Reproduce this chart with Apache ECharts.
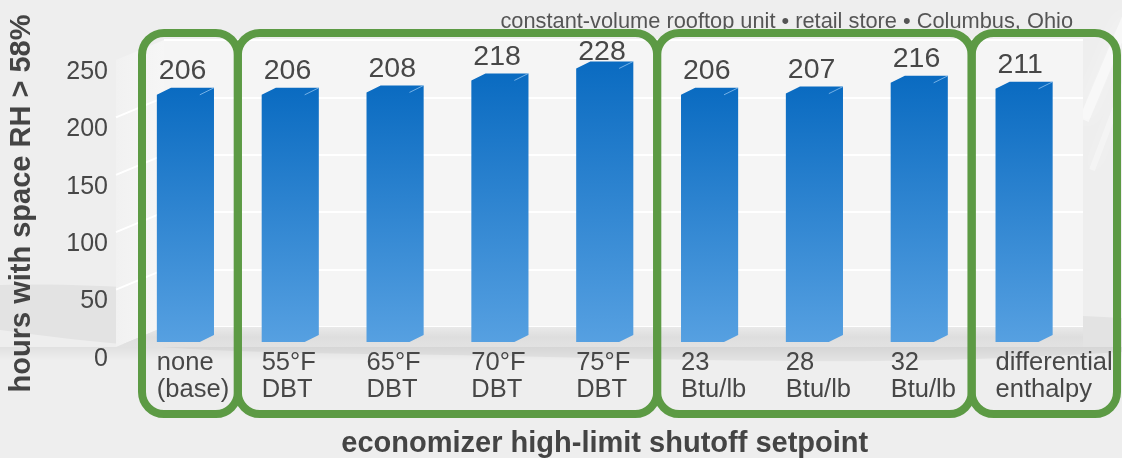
<!DOCTYPE html>
<html>
<head>
<meta charset="utf-8">
<script src="https://cdn.jsdelivr.net/npm/echarts@6/dist/echarts.min.js"></script>
<style>
  html, body { margin: 0; padding: 0; background: #eeeeee; }
  #chart { width: 1122px; height: 458px; }
</style>
</head>
<body>
<div id="chart"></div>
<script>
// Economizer high-limit setpoints compared (one bar per control strategy)
const categories = ['none\n(base)', '55°F\nDBT', '65°F\nDBT', '70°F\nDBT', '75°F\nDBT',
                    '23\nBtu/lb', '28\nBtu/lb', '32\nBtu/lb', 'differential\nenthalpy'];
const hours = [206, 206, 208, 218, 228, 206, 207, 216, 211];
// Setpoint families outlined together: [first index, last index]
const groups = [[0, 0], [1, 4], [5, 7], [8, 8]];
const yMin = 0, yMax = 250, yStep = 50;

const subtitle = 'constant-volume rooftop unit \u2022 retail store \u2022 Columbus, Ohio';
const yTitle = 'hours with space RH > 58%';
const xTitle = 'economizer high-limit shutoff setpoint';

const FONT = '"Liberation Sans", Arial, Helvetica, sans-serif';
const TEXT = '#474747';
const GREEN = '#5c9a44';

// Layout of the pseudo-3D box: front edge of the side wall, back wall, outlines
const wallFrontX = 116, wallBackX = 164;
const boxTop = 33, boxBottom = 414, boxStroke = 8;

const chart = echarts.init(document.getElementById('chart'), null, { renderer: 'canvas' });

function renderBar(params, api) {
  const v = api.value(1);
  const top = api.coord([api.value(0), v]);
  const base = api.coord([api.value(0), 0]);
  const band = api.size([1, 0])[0];
  const fw = band * 0.41;     // front face width
  const dx = band * 0.135;    // depth offset
  const dy = band * 0.067;
  const fl = top[0] - (fw + dx) / 2;
  const fr = fl + fw;
  const yt = top[1], yb = base[1];
  // value label sits just above the bar, kept inside the group outline
  const labelY = Math.max(yt - 2, boxTop + boxStroke / 2 + 30);
  return {
    type: 'group',
    children: [
      {
        type: 'polygon',
        shape: { points: [[fl, yt + dy], [fl + dx, yt], [fr + dx, yt], [fr + dx, yb], [fr, yb + dy], [fl, yb + dy]] },
        style: {
          fill: new echarts.graphic.LinearGradient(0, 0, 0, 1, [
            { offset: 0, color: '#0a6bc1' },
            { offset: 1, color: '#56a0e1' }
          ])
        }
      },
      {
        type: 'line',
        shape: { x1: fr, y1: yt + dy, x2: fr + dx, y2: yt },
        style: { stroke: 'rgba(160,205,245,0.7)', lineWidth: 1 }
      },
      {
        type: 'text',
        style: {
          x: fl + 2, y: labelY, text: String(v),
          font: '28.5px ' + FONT, fill: TEXT, align: 'left', verticalAlign: 'bottom'
        }
      },
      {
        type: 'text',
        style: {
          x: fl, y: yb + dy + 7, text: categories[params.dataIndex],
          font: '25.5px ' + FONT, fill: TEXT, align: 'left', verticalAlign: 'top', lineHeight: 27
        }
      }
    ]
  };
}

const option = {
  animation: false,
  backgroundColor: '#eeeeee',
  textStyle: { fontFamily: FONT },
  title: {
    text: subtitle,
    right: 44, top: 6,
    textStyle: { fontSize: 21.8, fontWeight: 'normal', color: '#555555', fontFamily: FONT }
  },
  grid: [
    { left: 133, right: 45.5, top: 35, bottom: 123, outerBoundsMode: 'none' },          // bars
    { left: wallBackX, right: 39, top: 40, bottom: 131, show: true, outerBoundsMode: 'none',
      backgroundColor: '#f5f5f5', borderWidth: 0 },                                       // back wall
    { left: wallFrontX, width: 48, top: 60, bottom: 111, outerBoundsMode: 'none' }       // front edge / value labels
  ],
  xAxis: [
    { type: 'category', gridIndex: 0, data: categories,
      axisLine: { show: false }, axisTick: { show: false }, axisLabel: { show: false },
      name: xTitle, nameLocation: 'middle', nameGap: 94,
      nameTextStyle: { fontSize: 29, fontWeight: 'bold', color: '#444444', fontFamily: FONT } },
    { type: 'category', gridIndex: 1, data: categories, show: false },
    { type: 'category', gridIndex: 2, data: categories, show: false }
  ],
  yAxis: [
    { type: 'value', gridIndex: 0, min: yMin, max: yMax, show: false },
    { type: 'value', gridIndex: 1, min: yMin, max: yMax, interval: yStep,
      axisLine: { show: false }, axisTick: { show: false }, axisLabel: { show: false },
      splitLine: { show: true, lineStyle: { color: '#ffffff', width: 2 } } },
    { type: 'value', gridIndex: 2, min: yMin, max: yMax, interval: yStep,
      axisLine: { show: false }, axisTick: { show: false }, splitLine: { show: false },
      axisLabel: { fontSize: 25, color: TEXT, margin: 8, verticalAlign: 'top', lineHeight: 24, fontFamily: FONT },
      name: yTitle, nameLocation: 'middle', nameRotate: 90, nameGap: 80,
      nameTextStyle: { fontSize: 29, fontWeight: 'bold', color: '#444444', fontFamily: FONT } }
  ],
  series: [
    {
      type: 'custom', xAxisIndex: 0, yAxisIndex: 0,
      renderItem: renderBar,
      data: hours.map((h, i) => [i, h]),
      z: 5
    }
  ]
};

chart.setOption(option);

// Walls, floor and group outlines, placed through the axes' own scales
function decorate() {
  const yF = v => chart.convertToPixel({ yAxisIndex: 2 }, v);
  const yB = v => chart.convertToPixel({ yAxisIndex: 1 }, v);
  const xC = i => chart.convertToPixel({ xAxisIndex: 0 }, i);
  const band = xC(1) - xC(0);
  const boundary = k => xC(k) - band / 2;
  const backRight = 1122 - 39;

  const elements = [];

  // soft background swoosh and sheen
  elements.push({
    type: 'polygon', z: -20, silent: true,
    shape: { points: [[0, 285], [500, 318], [1122, 318], [1122, 352], [500, 356], [0, 330]], smooth: 0.4 },
    style: { fill: 'rgba(0,0,0,0.045)', shadowBlur: 30, shadowColor: 'rgba(0,0,0,0.06)' }
  });
  elements.push({
    type: 'line', z: -19, silent: true,
    shape: { x1: 1128, y1: 15, x2: 1084, y2: 120 },
    style: { stroke: 'rgba(255,255,255,0.5)', lineWidth: 10, shadowBlur: 20, shadowColor: '#ffffff' }
  });
  elements.push({
    type: 'line', z: -19, silent: true,
    shape: { x1: 1130, y1: 70, x2: 1092, y2: 170 },
    style: { stroke: 'rgba(255,255,255,0.35)', lineWidth: 6, shadowBlur: 16, shadowColor: '#ffffff' }
  });

  // left side wall
  elements.push({
    type: 'polygon', z: 0, silent: true,
    shape: { points: [[wallFrontX, yF(yMax)], [wallBackX, yB(yMax)], [wallBackX, yB(yMin)], [wallFrontX, yF(yMin)]] },
    style: { fill: new echarts.graphic.LinearGradient(0, 0, 1, 0, [
      { offset: 0, color: '#f1f1f1' }, { offset: 1, color: '#f6f6f6' }]) }
  });
  for (let v = yMin + yStep; v < yMax; v += yStep) {
    elements.push({
      type: 'line', z: 1, silent: true,
      shape: { x1: wallFrontX, y1: yF(v), x2: wallBackX, y2: yB(v) },
      style: { stroke: '#ffffff', lineWidth: 2 }
    });
  }

  // floor
  elements.push({
    type: 'polygon', z: 1, silent: true,
    shape: { points: [[wallFrontX, yF(yMin)], [wallBackX, yB(yMin)], [backRight, yB(yMin)], [backRight, yF(yMin)]] },
    style: { fill: new echarts.graphic.LinearGradient(0, 0, 0, 1, [
      { offset: 0, color: '#e9e9e9' }, { offset: 0.5, color: '#dedede' }, { offset: 1, color: '#e2e2e2' }]) }
  });
  elements.push({
    type: 'rect', z: 1, silent: true,
    shape: { x: 0, y: yF(yMin), width: 1122, height: 14 },
    style: { fill: new echarts.graphic.LinearGradient(0, 0, 0, 1, [
      { offset: 0, color: 'rgba(0,0,0,0.06)' }, { offset: 1, color: 'rgba(0,0,0,0)' }]) }
  });

  // group outlines
  groups.forEach((g, n) => {
    let left = boundary(g[0]);
    let right = boundary(g[1] + 1);
    if (n === 0) left += 9;
    if (n === groups.length - 1) right = 1117;
    elements.push({
      type: 'rect', z: 30, silent: true,
      shape: { x: left, y: boxTop, width: right - left, height: boxBottom - boxTop, r: 22 },
      style: { fill: 'none', stroke: GREEN, lineWidth: boxStroke }
    });
  });

  chart.setOption({ graphic: { elements } });
}

decorate();
</script>
</body>
</html>
